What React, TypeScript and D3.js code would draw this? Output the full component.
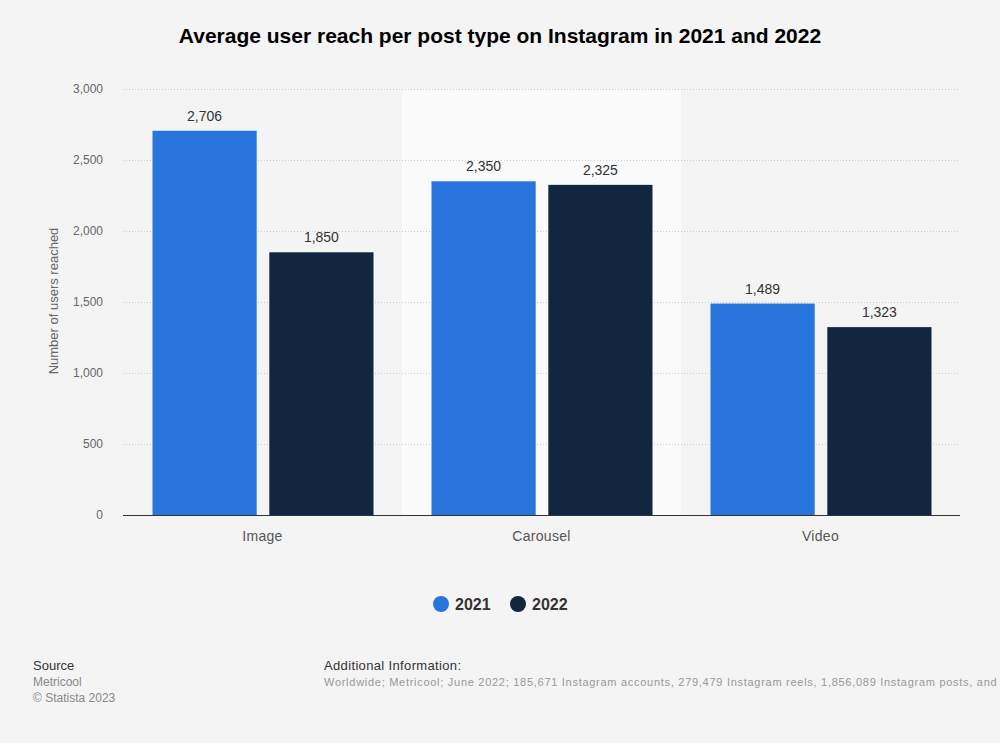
import React from "react";
import * as d3 from "d3";

const categories = ["Image", "Carousel", "Video"];
const seriesNames = ["2021", "2022"];
const values2021 = [2706, 2350, 1489];
const values2022 = [1850, 2325, 1323];
const yTicks = [0, 500, 1000, 1500, 2000, 2500, 3000];
const colors = ["#2876dd", "#12263f"];

export default function App() {
  const W = 1000, H = 743;
  const left = 123, right = 960, top = 89, bottom = 515;
  const x = d3.scaleBand<string>().domain(categories).range([left, right]).paddingInner(0).paddingOuter(0);
  const y = d3.scaleLinear().domain([0, 3000]).range([bottom, top]);
  const inner = d3.scaleBand<string>().domain(seriesNames).range([29.5, x.bandwidth() - 28.5]).paddingInner(0.108);
  const fmt = d3.format(",");
  const series = [values2021, values2022];
  const font = "'Liberation Sans', Arial, sans-serif";

  return (
    <svg width={W} height={H} style={{ display: "block", position: "absolute", left: 0, top: 0, background: "#f4f4f4" }} fontFamily={font}>
      <rect x={0} y={0} width={W} height={H} fill="#f4f4f4" />
      <text x={500} y={43} textAnchor="middle" fontSize={21} fontWeight="bold" fill="#000">
        Average user reach per post type on Instagram in 2021 and 2022
      </text>
      <rect x={x("Carousel")!} y={top} width={x.bandwidth()} height={bottom - top} fill="#fafafa" />
      {yTicks.map((t) => (
        <g key={t}>
          {t !== 0 && (
            <line x1={left} x2={right} y1={y(t) + 0.5} y2={y(t) + 0.5} stroke="#cccccc" strokeDasharray="1,2" strokeWidth={1} />
          )}
          <text x={103} y={y(t) + 4} textAnchor="end" fontSize={12} fill="#666">{fmt(t)}</text>
        </g>
      ))}
      <text transform={`translate(58,${(top + bottom) / 2 - 1}) rotate(-90)`} textAnchor="middle" fontSize={13} fill="#666">
        Number of users reached
      </text>
      {categories.map((c, i) => (
        <g key={c}>
          {seriesNames.map((s, j) => {
            const v = series[j][i];
            const bx = x(c)! + inner(s)!;
            return (
              <g key={s}>
                <rect x={bx} y={y(v)} width={inner.bandwidth()} height={bottom - y(v)} fill={colors[j]} />
                <text x={bx + inner.bandwidth() / 2} y={y(v) - 10} textAnchor="middle" fontSize={14} fill="#333">{fmt(v)}</text>
              </g>
            );
          })}
          <text x={x(c)! + x.bandwidth() / 2} y={541} textAnchor="middle" fontSize={14} letterSpacing={0.3} fill="#555">{c}</text>
        </g>
      ))}
      <line x1={left} x2={right} y1={bottom + 0.5} y2={bottom + 0.5} stroke="#333" strokeWidth={1} />
      {seriesNames.map((s, j) => (
        <g key={s} transform={`translate(${441 + j * 77},604)`}>
          <circle cx={0} cy={0} r={8} fill={colors[j]} />
          <text x={14} y={6} fontSize={16} fontWeight="bold" fill="#333">{s}</text>
        </g>
      ))}
      <text x={33} y={670} fontSize={13} fill="#333">Source</text>
      <text x={33} y={686} fontSize={12} fill="#888">Metricool</text>
      <text x={33} y={702} fontSize={12} fill="#888">© Statista 2023</text>
      <text x={324} y={670} fontSize={13} letterSpacing={0.35} fill="#333">Additional Information:</text>
      <text x={324} y={686} fontSize={11} fill="#999" letterSpacing={0.72}>
        Worldwide; Metricool; June 2022; 185,671 Instagram accounts, 279,479 Instagram reels, 1,856,089 Instagram posts, and
      </text>
    </svg>
  );
}
